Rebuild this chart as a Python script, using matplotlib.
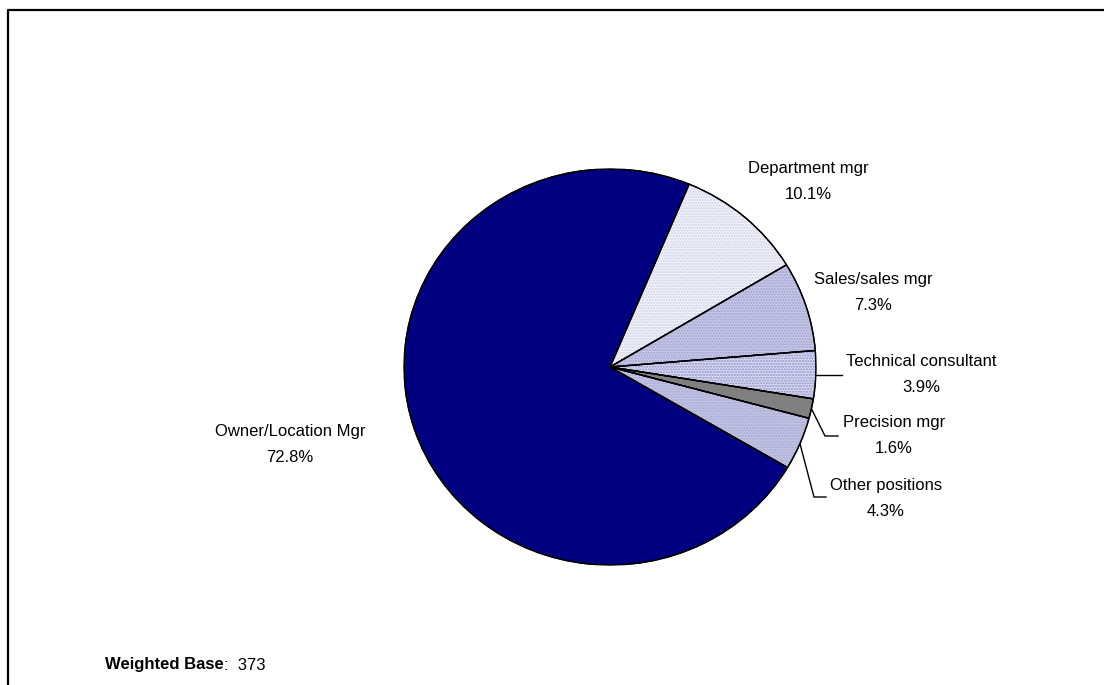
import numpy as np
import matplotlib
matplotlib.use("Agg")
import matplotlib.pyplot as plt
from matplotlib.lines import Line2D
from matplotlib.patches import Wedge

plt.rcParams['font.family'] = ['Liberation Sans', 'DejaVu Sans']

# Share of respondents by job position
categories = ["Owner/Location Mgr", "Department mgr", "Sales/sales mgr",
              "Technical consultant", "Precision mgr", "Other positions"]
shares = [72.8, 10.1, 7.3, 3.9, 1.6, 4.3]
weighted_base = 373

fills = ["#000080", "#F2F2F9", "#C9C9E6", "#D9D9F0", "#808080", "#C4C4E2"]
dot_colors = [None, "#D0D0E8", "#A0A0D4", "#9090CC", None, "#A8A8D8"]

W, H = 1104, 685
fig = plt.figure(figsize=(W / 100, H / 100), dpi=100)

# overlay axes in pixel units for text, leaders and frame
ax = fig.add_axes([0, 0, 1, 1])
ax.set_xlim(0, W)
ax.set_ylim(0, H)
ax.axis("off")

# pie axes: slightly flattened ellipse
cx, cy, rx, ry = 610, 367, 206, 198
axp = fig.add_axes([(cx - rx) / W, (H - cy - ry) / H, 2 * rx / W, 2 * ry / H])
wedges, _ = axp.pie(shares, center=(0, 0), radius=1, startangle=-30.5,
                    counterclock=False, colors=fills,
                    wedgeprops=dict(edgecolor="black", linewidth=1.0))

# dotted texture on the lighter slices
for w, dc in zip(wedges, dot_colors):
    if dc is None:
        continue
    axp.add_patch(Wedge(w.center, w.r, w.theta1, w.theta2, facecolor="none",
                        edgecolor=dc, linewidth=0, hatch="......",
                        zorder=w.get_zorder() + 0.1))
for w in wedges:
    axp.add_patch(Wedge(w.center, w.r, w.theta1, w.theta2, facecolor="none",
                        edgecolor="black", linewidth=1.0,
                        zorder=w.get_zorder() + 0.2))
axp.set_xlim(-1, 1)
axp.set_ylim(-1, 1)
axp.set_aspect("auto")
axp.axis("off")

# label positions (x centre, y of first line) in pixels from the top
label_pos = {
    "Owner/Location Mgr": (290, 431),
    "Department mgr": (808, 168),
    "Sales/sales mgr": (873, 279),
    "Technical consultant": (921, 361),
    "Precision mgr": (894, 422),
    "Other positions": (886, 485),
}
for name, val in zip(categories, shares):
    x, y = label_pos[name]
    ax.text(x, H - y - 13.5, f"{name}\n{val:.1f}%", ha="center", va="center",
            fontsize=12, linespacing=1.85, color="black")

# leader lines for the small slices: elbow point, end point
leaders = {
    "Technical consultant": [(842, None)],
    "Precision mgr": [(825, 436), (838, 436)],
    "Other positions": [(814, 497), (826, 497)],
}
to_px = ax.transData.inverted()
for w, name in zip(wedges, categories):
    if name not in leaders:
        continue
    mid = np.deg2rad((w.theta1 + w.theta2) / 2)
    sx, sy = to_px.transform(axp.transData.transform((np.cos(mid), np.sin(mid))))
    xs, ys = [sx], [sy]
    for px, py in leaders[name]:
        xs.append(px)
        ys.append(sy if py is None else H - py)
    ax.plot(xs, ys, color="black", linewidth=1.0, zorder=5)

wb = ax.text(105, H - 665, "Weighted Base", fontsize=12, fontweight="bold",
             ha="left", va="center")
ax.annotate(f":  {weighted_base}", xy=(1, 0.5), xycoords=wb, fontsize=12,
            ha="left", va="center")

# chart frame
fig.add_artist(Line2D([7.5 / W, 7.5 / W, 1.0], [0, 1 - 9.5 / H, 1 - 9.5 / H],
                      transform=fig.transFigure, color="black", linewidth=1.6))

fig.savefig("out.png", dpi=100)
